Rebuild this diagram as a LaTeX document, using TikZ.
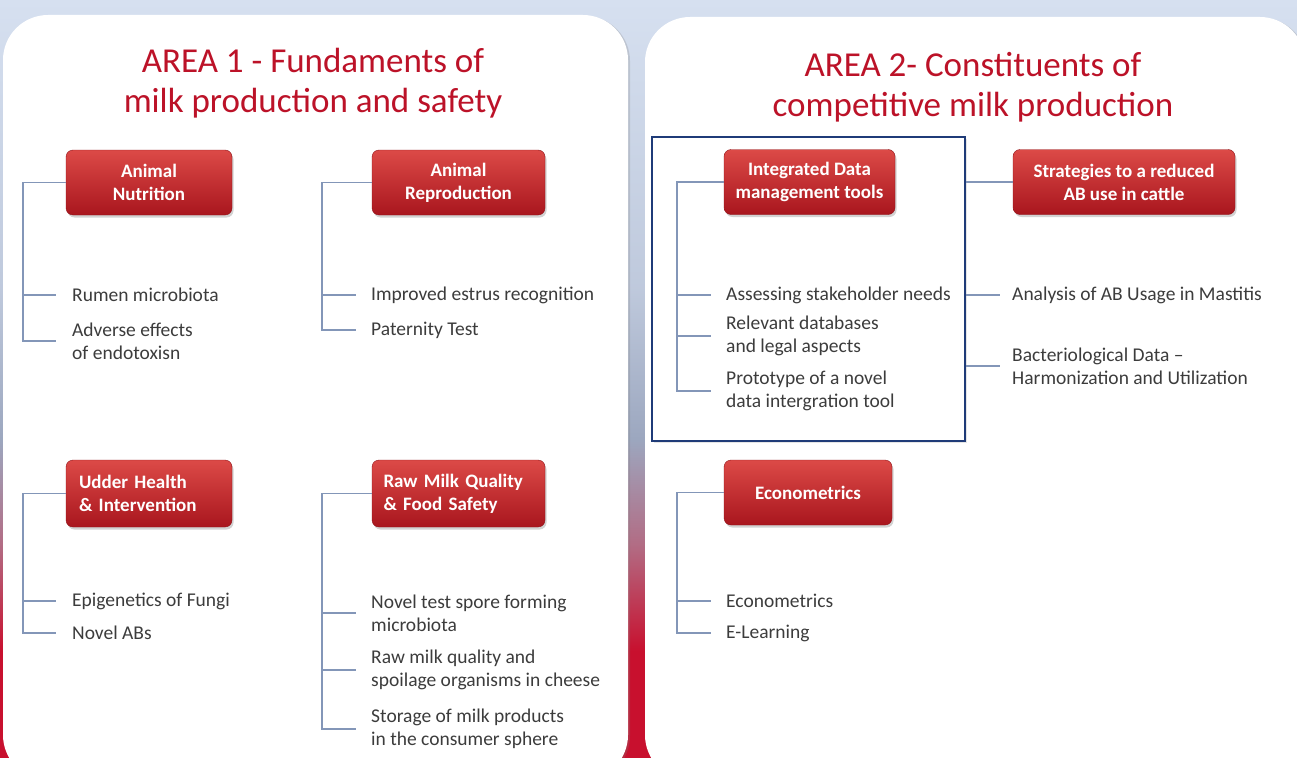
\documentclass[tikz,border=0pt]{standalone}
\usepackage{fontspec}
\setmainfont{Carlito}
\usetikzlibrary{shadows}
\definecolor{bgtop}{HTML}{D6E0F0}
\definecolor{bgmid}{HTML}{9CA7BF}
\definecolor{bgmauve}{HTML}{B26C84}
\definecolor{bgbot}{HTML}{C8102E}
\definecolor{titlered}{HTML}{BC1228}
\definecolor{boxtop}{HTML}{DC4A47}
\definecolor{boxbot}{HTML}{A9161E}
\definecolor{linecol}{HTML}{8396B8}
\definecolor{frameblue}{HTML}{1F3B78}
\definecolor{itemgray}{HTML}{3C3C3C}
\pgfdeclareverticalshading{bgshade}{100bp}{color(0bp)=(bgbot); color(25bp)=(bgbot); color(32bp)=(bgbot); color(39bp)=(bgmauve); color(46bp)=(bgmid); color(56bp)=(bgtop!60!bgmid); color(75bp)=(bgtop); color(100bp)=(bgtop)}
\tikzset{
  panel/.style={fill=white, rounded corners=45, drop shadow={opacity=0.25, shadow xshift=2pt, shadow yshift=-1pt}},
  topic/.style={rounded corners=7, top color=boxtop, bottom color=boxbot, draw=boxbot!85!black, line width=0.4,
    text=white, font=\bfseries\fontsize{19}{23}\selectfont, minimum width=166, minimum height=65, align=center, inner sep=0,
    drop shadow={opacity=0.35, shadow xshift=1.5pt, shadow yshift=-2.5pt}},
  item/.style={anchor=west, font=\fontsize{19.5}{23}\selectfont, text=itemgray, align=left, inner sep=0},
  conn/.style={draw=linecol, line width=1.1},
  title/.style={font=\fontsize{35}{40}\selectfont, text=titlered, align=center, inner sep=0},
  frame/.style={draw=frameblue, line width=1.5, fill=white, inner sep=0,
    drop shadow={opacity=0.2, shadow xshift=2pt, shadow yshift=-2pt}},
}
\begin{document}
\begin{tikzpicture}[x=1pt,y=-1pt]
\useasboundingbox (0,0) rectangle (1297,757);
\shade[shading=bgshade] (0,0) rectangle (1297,757);
\path[panel] (3,15) rectangle (628,780);
\path[panel] (645,17) rectangle (1305,780);

% titles
\node[title] (t1) at (313,83) {AREA 1 - Fundaments of\\milk production and safety};
\node[title] (t2) at (973,87) {AREA 2- Constituents of\\competitive milk production};

% frame
\node[frame, minimum width=313, minimum height=304] (fr) at (808.5,289) {};

% topics
\node[topic] (an) at (149,182.5) {Animal\\Nutrition};
\node[topic, minimum width=173] (ar) at (458.5,182.5) {Animal\\Reproduction};
\node[topic, minimum height=67, align=left, text width=140] (uh) at (149,493.5) {Udder Health\\\& Intervention};
\node[topic, minimum width=173, minimum height=67, align=left, text width=150] (rm) at (458.5,493.5) {Raw Milk Quality\\\& Food Safety};
\node[topic, minimum width=171] (id) at (809.5,182) {Integrated Data\\management tools};
\node[topic, minimum width=222] (st) at (1124,182) {Strategies to a reduced\\AB use in cattle};
\node[topic, minimum width=168] (ec) at (808,492.5) {Econometrics};

% items
\node[item] (ru) at (72,295) {Rumen microbiota};
\node[item] (ad) at (72,341) {Adverse effects\\of endotoxisn};
\node[item] (ie) at (371,295) {Improved estrus recognition};
\node[item] (pt) at (371,330) {Paternity Test};
\node[item] (ef) at (72,601) {Epigenetics of Fungi};
\node[item] (na) at (72,633) {Novel ABs};
\node[item] (nt) at (371,613) {Novel test spore forming\\microbiota};
\node[item] (rq) at (371,670) {Raw milk quality and\\spoilage organisms in cheese};
\node[item] (sm) at (371,729) {Storage of milk products\\in the consumer sphere};
\node[item] (as) at (726,295) {Assessing stakeholder needs};
\node[item] (rd) at (726,336) {Relevant databases\\and legal aspects};
\node[item] (pn) at (726,391) {Prototype of a novel\\data intergration tool};
\node[item] (aa) at (1012,295) {Analysis of AB Usage in Mastitis};
\node[item] (bd) at (1012,366) {Bacteriological Data --\\Harmonization and Utilization};
\node[item] (ei) at (726,601) {Econometrics};
\node[item] (el) at (726,633) {E-Learning};

% connectors
\coordinate (anb) at (23,182.5);
\draw[conn] (an.west) -- (anb) |- ([xshift=-16]ad.west);
\draw[conn] (anb |- ru.west) -- ([xshift=-16]ru.west);

\coordinate (arb) at (322,182.5);
\draw[conn] (ar.west) -- (arb) |- ([xshift=-15]pt.west);
\draw[conn] (arb |- ie.west) -- ([xshift=-15]ie.west);

\coordinate (uhb) at (23,493.5);
\draw[conn] (uh.west) -- (uhb) |- ([xshift=-16]na.west);
\draw[conn] (uhb |- ef.west) -- ([xshift=-16]ef.west);

\coordinate (rmb) at (322,493.5);
\draw[conn] (rm.west) -- (rmb) |- ([xshift=-15]sm.west);
\draw[conn] (rmb |- nt.west) -- ([xshift=-15]nt.west);
\draw[conn] (rmb |- rq.west) -- ([xshift=-15]rq.west);

\coordinate (idb) at (677,182);
\draw[conn] (id.west) -- (idb) |- ([xshift=-15]pn.west);
\draw[conn] (idb |- as.west) -- ([xshift=-15]as.west);
\draw[conn] (idb |- rd.west) -- ([xshift=-15]rd.west);

\draw[conn] (fr.east |- st.west) -- (st.west);
\draw[conn] (fr.east |- aa.west) -- ([xshift=-12]aa.west);
\draw[conn] (fr.east |- bd.west) -- ([xshift=-12]bd.west);

\coordinate (ecb) at (677,492.5);
\draw[conn] (ec.west) -- (ecb) |- ([xshift=-15]el.west);
\draw[conn] (ecb |- ei.west) -- ([xshift=-15]ei.west);
\end{tikzpicture}
\end{document}
